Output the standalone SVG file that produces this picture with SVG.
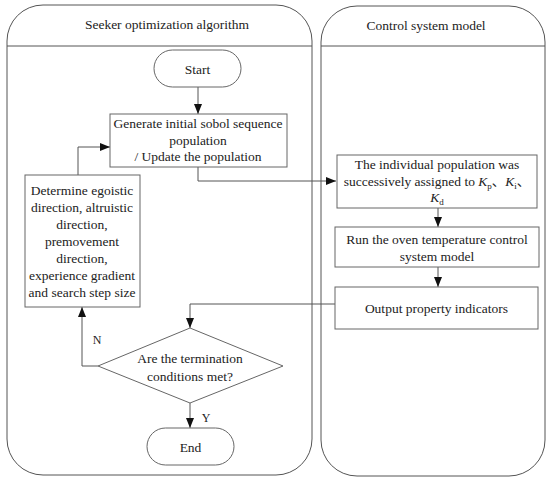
<svg xmlns="http://www.w3.org/2000/svg" width="550" height="483" viewBox="0 0 550 483">
<style>
.pan{fill:none;stroke:#555;stroke-width:1}
.box{fill:#fff;stroke:#666;stroke-width:1}
.ln{fill:none;stroke:#555;stroke-width:1}
text{font-family:'Liberation Serif','Times New Roman','DejaVu Serif','Noto Sans CJK SC',serif;font-size:13.5px;fill:#222;text-anchor:middle}
.t{font-size:13.5px}
.lbl{font-size:12px}
</style>
<defs>
<marker id="ar" markerWidth="10" markerHeight="10" refX="10" refY="5" orient="auto" markerUnits="userSpaceOnUse">
<path d="M0,1 L10,5 L0,9 Z" fill="#111"/>
</marker>
</defs>
<rect width="550" height="483" fill="#fff"/>
<g id="panel-left">
<rect class="pan" x="7" y="5" width="305" height="470" rx="36" ry="36"/>
<line class="ln" x1="7" y1="46" x2="312" y2="46"/>
<text class="t" x="167" y="29">Seeker optimization algorithm</text>
</g>
<g id="panel-right">
<rect class="pan" x="321" y="6" width="224" height="470" rx="36" ry="36"/>
<line class="ln" x1="321" y1="46" x2="545" y2="46"/>
<text class="t" x="426" y="30">Control system model</text>
</g>
<g id="connectors">
<line class="ln" x1="198" y1="87" x2="198" y2="114" marker-end="url(#ar)"/>
<polyline class="ln" points="198,167 198,181 336,181" marker-end="url(#ar)"/>
<line class="ln" x1="438" y1="208" x2="438" y2="227" marker-end="url(#ar)"/>
<line class="ln" x1="438" y1="267" x2="438" y2="287" marker-end="url(#ar)"/>
<polyline class="ln" points="335,304 190,304 190,328" marker-end="url(#ar)"/>
<polyline class="ln" points="98,366 82,366 82,307" marker-end="url(#ar)"/>
<polyline class="ln" points="78,175 78,147 110,147" marker-end="url(#ar)"/>
<line class="ln" x1="190" y1="403" x2="190" y2="428" marker-end="url(#ar)"/>
<text class="lbl" x="97" y="344">N</text>
<text class="lbl" x="206" y="422">Y</text>
</g>
<g id="start">
<rect class="box" x="154" y="50" width="87" height="37" rx="18.5" ry="18.5"/>
<text x="197.5" y="73.5">Start</text>
</g>
<g id="generate">
<rect class="box" x="110" y="114" width="177" height="53"/>
<text x="198" y="128">Generate initial sobol sequence</text>
<text x="198" y="145">population</text>
<text x="198" y="161">/ Update the population</text>
</g>
<g id="determine">
<rect class="box" x="25" y="175" width="115" height="132"/>
<text x="82" y="195">Determine egoistic</text>
<text x="82" y="212">direction, altruistic</text>
<text x="82" y="229">direction,</text>
<text x="82" y="246">premovement</text>
<text x="82" y="263">direction,</text>
<text x="82" y="280">experience gradient</text>
<text x="82" y="297">and search step size</text>
</g>
<g id="decision">
<polygon class="box" points="190,328 283,366 190,403 98,366"/>
<text x="190" y="363">Are the termination</text>
<text x="190" y="381">conditions met?</text>
</g>
<g id="end">
<rect class="box" x="147" y="428" width="87" height="37" rx="18.5" ry="18.5"/>
<text x="190.5" y="451.5">End</text>
</g>
<g id="assign">
<rect class="box" x="337" y="155" width="200" height="53"/>
<text x="437" y="169">The individual population was</text>
<text x="437" y="186">successively assigned to <tspan font-style="italic">K</tspan><tspan font-size="9" dy="3">p</tspan><tspan dy="-3">、</tspan><tspan font-style="italic">K</tspan><tspan font-size="9" dy="3">i</tspan><tspan dy="-3">、</tspan></text>
<text x="437" y="202"><tspan font-style="italic">K</tspan><tspan font-size="9" dy="3">d</tspan></text>
</g>
<g id="run">
<rect class="box" x="335" y="227" width="204" height="40"/>
<text x="437" y="244">Run the oven temperature control</text>
<text x="437" y="261">system model</text>
</g>
<g id="output">
<rect class="box" x="335" y="287" width="203" height="42"/>
<text x="436.5" y="312.5">Output property indicators</text>
</g>
</svg>
